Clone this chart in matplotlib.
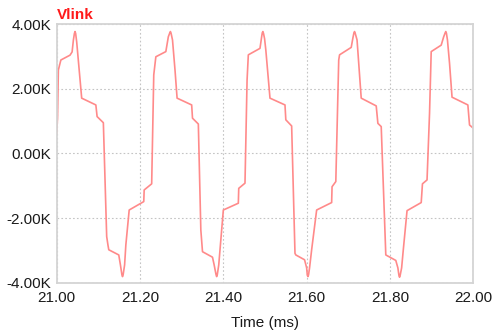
"""Plot the Vlink waveform trace (21-22 ms window)."""

import matplotlib

matplotlib.use("Agg")

import matplotlib.pyplot as plt
from matplotlib.ticker import FuncFormatter, MultipleLocator

plt.rcParams["font.family"] = ["Liberation Sans", "DejaVu Sans"]

TRACE_NAME = "Vlink"
X_LABEL = "Time (ms)"

# Samples: time in ms, voltage in kV
TIME_MS = [
    21.000, 21.002, 21.004, 21.010, 21.032, 21.037, 21.040, 21.0425, 21.044, 21.0455,
    21.048, 21.060, 21.094, 21.097, 21.112, 21.120, 21.123, 21.125, 21.149, 21.153,
    21.1565, 21.158, 21.1595, 21.163, 21.166, 21.174, 21.209, 21.210, 21.228, 21.233,
    21.238, 21.262, 21.268, 21.2715, 21.273, 21.2745, 21.278, 21.284, 21.289, 21.324,
    21.326, 21.340, 21.346, 21.350, 21.374, 21.378, 21.3825, 21.384, 21.3855, 21.389,
    21.393, 21.400, 21.436, 21.437, 21.452, 21.457, 21.460, 21.488, 21.492, 21.4935,
    21.495, 21.4965, 21.499, 21.502, 21.512, 21.548, 21.550, 21.564, 21.572, 21.574,
    21.595, 21.600, 21.6015, 21.603, 21.6045, 21.607, 21.612, 21.624, 21.660, 21.661,
    21.670, 21.677, 21.679, 21.707, 21.711, 21.7135, 21.715, 21.7165, 21.721, 21.731,
    21.767, 21.771, 21.779, 21.790, 21.814, 21.819, 21.8215, 21.823, 21.8245, 21.828,
    21.832, 21.841, 21.875, 21.878, 21.889, 21.895, 21.899, 21.923, 21.929, 21.9325,
    21.934, 21.9355, 21.938, 21.943, 21.949, 21.987, 21.991, 22.000,
]
VLINK_KV = [
    0.63, 1.10, 2.58, 2.89, 3.04, 3.14, 3.50, 3.71, 3.77, 3.71,
    3.45, 1.71, 1.50, 1.14, 0.95, -2.57, -2.83, -2.98, -3.14, -3.45,
    -3.75, -3.81, -3.75, -3.45, -2.83, -1.75, -1.49, -1.13, -0.94, 2.43,
    2.99, 3.15, 3.61, 3.73, 3.77, 3.72, 3.51, 2.58, 1.71, 1.50,
    1.09, 0.91, -2.37, -3.04, -3.21, -3.45, -3.75, -3.81, -3.75, -3.45,
    -2.83, -1.75, -1.54, -1.08, -0.92, 2.27, 3.05, 3.25, 3.61, 3.73,
    3.77, 3.71, 3.55, 3.20, 1.71, 1.50, 1.04, 0.85, -3.09, -3.14,
    -3.29, -3.54, -3.76, -3.81, -3.76, -3.54, -2.98, -1.75, -1.52, -1.03,
    -0.87, 2.89, 3.05, 3.28, 3.57, 3.73, 3.77, 3.72, 3.51, 1.71,
    1.47, 0.93, 0.83, -3.14, -3.31, -3.54, -3.77, -3.83, -3.77, -3.54,
    -2.98, -1.77, -1.52, -0.94, -0.82, 1.24, 3.15, 3.35, 3.61, 3.73,
    3.77, 3.72, 3.51, 2.79, 1.74, 1.50, 0.88, 0.78,
]

LINE_COLOR = "#ff8a8a"
TITLE_COLOR = "#ff1a1a"
FRAME_COLOR = "#d4d4d4"
GRID_COLOR = "#c4c4c4"


def main():
    fig = plt.figure(figsize=(4.93, 3.35), dpi=100)
    ax = fig.add_axes([0.115, 0.156, 0.845, 0.772])

    ax.plot(TIME_MS, VLINK_KV, color=LINE_COLOR, linewidth=1.2)

    ax.set_xlim(21.0, 22.0)
    ax.set_ylim(-4.0, 4.0)
    ax.xaxis.set_major_locator(MultipleLocator(0.2))
    ax.yaxis.set_major_locator(MultipleLocator(2.0))
    ax.xaxis.set_major_formatter(FuncFormatter(lambda v, _: f"{v:.2f}"))
    ax.yaxis.set_major_formatter(FuncFormatter(lambda v, _: f"{v:.2f}K"))
    ax.tick_params(length=0, labelsize=11, colors="#1a1a1a")
    ax.tick_params(axis="x", pad=6)
    ax.tick_params(axis="y", pad=4)

    ax.grid(True, color=GRID_COLOR, linestyle=(0, (1.5, 2)), linewidth=0.8)
    for spine in ax.spines.values():
        spine.set_color(FRAME_COLOR)
        spine.set_linewidth(1.3)

    ax.set_xlabel(X_LABEL, fontsize=11, color="#1a1a1a", labelpad=8)
    ax.set_title(TRACE_NAME, loc="left", color=TITLE_COLOR,
                 fontsize=11, fontweight="bold", pad=4)

    fig.savefig("out.png", dpi=100)
    plt.close(fig)


if __name__ == "__main__":
    main()
